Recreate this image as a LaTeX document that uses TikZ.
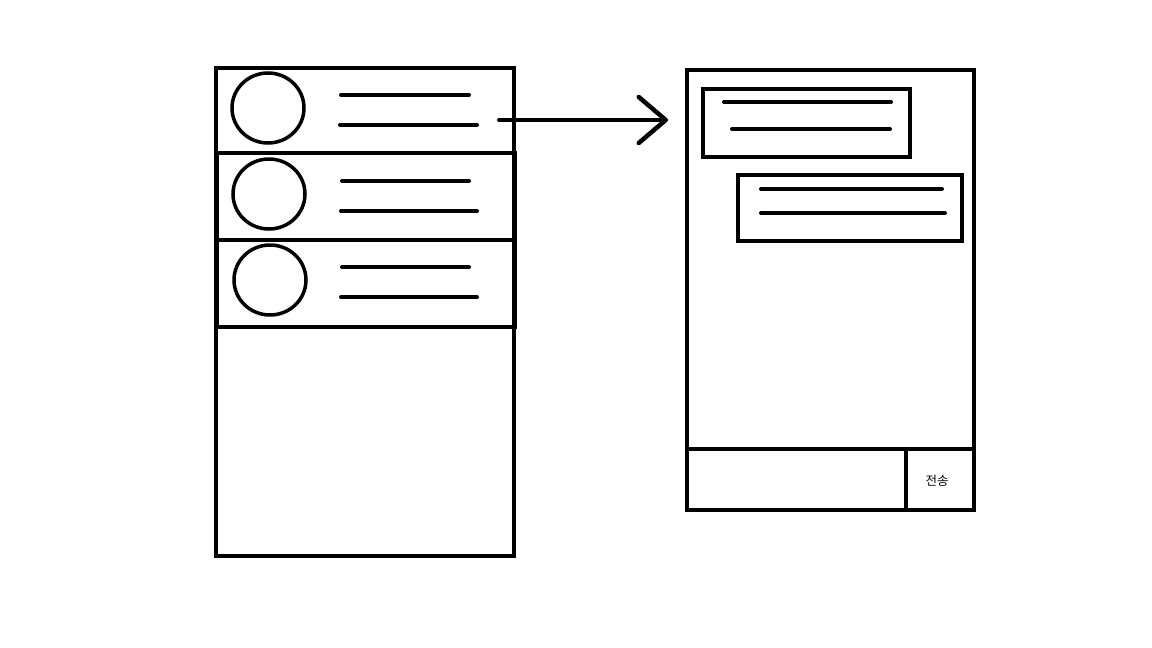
\documentclass[tikz,border=0pt]{standalone}
\usepackage{fontspec}
\newfontfamily\krfont{Noto Sans CJK KR}
\usetikzlibrary{arrows.meta,shapes.geometric}
\begin{document}
\begin{tikzpicture}[x=1pt,y=-1pt,
  frame/.style={draw=black,line width=4pt,rectangle,inner sep=0pt,outer sep=0pt,anchor=north west},
  avatar/.style={draw=black,line width=3.5pt,ellipse,inner sep=0pt,outer sep=0pt,minimum width=72pt,minimum height=70pt},
  textline/.style={draw=black,line width=4pt,line cap=round}]
  % canvas
  \fill[white] (0,0) rectangle (1152,648);
  \useasboundingbox (0,0) rectangle (1152,648);

  % ---- chat list screen ----
  \node[frame,minimum width=298pt,minimum height=488pt] (list) at (216,68) {};
  \node[frame,minimum width=298pt,minimum height=85pt] (row1) at (216,68) {};
  \node[frame,minimum width=298pt,minimum height=87pt] (row2) at (217,153) {};
  \node[frame,minimum width=298pt,minimum height=87pt] (row3) at (217,240) {};

  \node[avatar] (av1) at (268,108) {};
  \node[avatar] (av2) at (269,194) {};
  \node[avatar] (av3) at (270,280) {};

  \foreach \y/\a/\b/\c/\d in {95/341/469/125/340, 181/342/469/211/341, 267/342/469/297/341}{
    \draw[textline] (\a,\y) -- (\b,\y);
    \draw[textline] (\d,\c) -- (\b+8,\c);
  }

  % ---- chat room screen ----
  \node[frame,minimum width=287pt,minimum height=440pt] (room) at (687,70) {};
  \node[frame,minimum width=219pt,minimum height=61pt] (input) at (687,449) {};
  \node[frame,minimum width=68pt,minimum height=61pt] (send) at (906,449) {};
  \node[font=\krfont\fontsize{12.5}{14}\selectfont,inner sep=0pt] (sendlabel) at ([xshift=-3pt,yshift=-1pt]send.center) {전송};

  \node[frame,minimum width=207pt,minimum height=68pt] (bubble1) at (703,89) {};
  \node[frame,minimum width=224pt,minimum height=66pt] (bubble2) at (738,175) {};
  \draw[textline] (724,102) -- (891,102);
  \draw[textline] (732,129) -- (890,129);
  \draw[textline] (761,189) -- (942,189);
  \draw[textline] (761,213) -- (945,213);

  % ---- transition arrow ----
  \coordinate (from) at (499,120);
  \coordinate (to) at (668,120);
  \draw[line width=4pt,line cap=round,
        -{Straight Barb[length=27pt,width=46pt,line width=4.5pt,line cap=round,line join=round]}]
        (from) -- (to);
\end{tikzpicture}
\end{document}
